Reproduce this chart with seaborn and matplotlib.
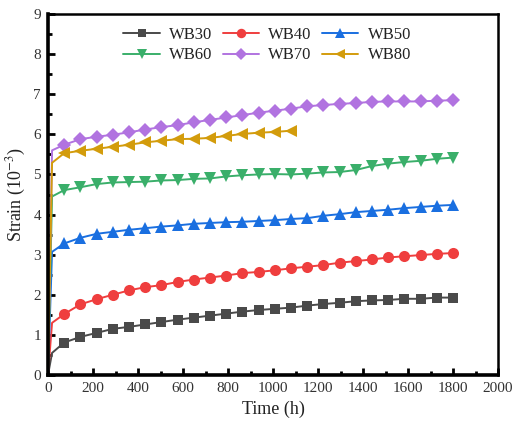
import matplotlib
matplotlib.use("Agg")
import matplotlib.pyplot as plt
import seaborn as sns
import pandas as pd
from matplotlib.ticker import MultipleLocator

# ---------------- data ----------------
time_full = [0, 18, 72, 144, 216, 288, 360, 432, 504, 576, 648, 720, 792, 864, 936,
             1008, 1080, 1152, 1224, 1296, 1368, 1440, 1512, 1584, 1656, 1728, 1800]
time_wb80 = [0, 18, 72, 144, 216, 288, 360, 432, 504, 576, 648, 720, 792, 864, 936,
             1008, 1080]

wb30 = [0, 0.55, 0.81, 0.95, 1.05, 1.15, 1.20, 1.26, 1.32, 1.38, 1.43, 1.48, 1.53,
        1.58, 1.62, 1.65, 1.68, 1.73, 1.77, 1.80, 1.84, 1.86, 1.87, 1.90, 1.90, 1.93, 1.93]
wb40 = [0, 1.30, 1.52, 1.76, 1.89, 2.00, 2.11, 2.19, 2.24, 2.32, 2.38, 2.43, 2.48,
        2.54, 2.57, 2.61, 2.66, 2.70, 2.74, 2.80, 2.84, 2.88, 2.93, 2.96, 2.99, 3.02, 3.04]
wb50 = [0, 3.07, 3.28, 3.42, 3.52, 3.57, 3.62, 3.66, 3.70, 3.73, 3.77, 3.79, 3.81,
        3.82, 3.84, 3.86, 3.89, 3.91, 3.97, 4.01, 4.06, 4.09, 4.12, 4.16, 4.19, 4.22, 4.24]
wb60 = [0, 4.45, 4.61, 4.68, 4.76, 4.80, 4.81, 4.82, 4.85, 4.86, 4.89, 4.90, 4.95,
        4.98, 5.00, 5.01, 5.00, 5.02, 5.05, 5.06, 5.11, 5.21, 5.27, 5.31, 5.34, 5.39, 5.42]
wb70 = [0, 5.60, 5.74, 5.88, 5.94, 5.99, 6.05, 6.12, 6.18, 6.23, 6.30, 6.36, 6.42,
        6.48, 6.54, 6.59, 6.64, 6.70, 6.73, 6.76, 6.78, 6.81, 6.82, 6.82, 6.82, 6.84, 6.85]
wb80 = [0, 5.29, 5.53, 5.59, 5.64, 5.69, 5.74, 5.80, 5.84, 5.88, 5.89, 5.91, 5.96,
        6.01, 6.04, 6.06, 6.09]

series_names = ["WB30", "WB40", "WB50", "WB60", "WB70", "WB80"]
series_times = [time_full, time_full, time_full, time_full, time_full, time_wb80]
series_values = [wb30, wb40, wb50, wb60, wb70, wb80]
colors = ["#4a4a4a", "#ef3e3e", "#1a6fe0", "#3aaf6a", "#b173e0", "#d39c0c"]
markers = ["s", "o", "^", "v", "D", "<"]
msizes = [7, 8, 8, 8, 7, 8]

x_ticks = [0, 200, 400, 600, 800, 1000, 1200, 1400, 1600, 1800, 2000]
y_ticks = [0, 1, 2, 3, 4, 5, 6, 7, 8, 9]

# ---------------- style ----------------
sns.set_style("ticks")
plt.rcParams["font.family"] = ["Liberation Serif", "DejaVu Serif"]
plt.rcParams["mathtext.fontset"] = "stix"

fig = plt.figure(figsize=(5.13, 4.23), dpi=100)
ax = fig.add_axes([48 / 513, 1 - 375 / 423, 450 / 513, 361 / 423])

for name, t, v, c, m, ms in zip(series_names, series_times, series_values,
                                colors, markers, msizes):
    df = pd.DataFrame({"Time": t, "Strain": v})
    sns.lineplot(data=df, x="Time", y="Strain", ax=ax, color=c, marker=m,
                 markersize=ms, markeredgewidth=0, linewidth=1.4,
                 markevery=list(range(2, len(t))), label=name, sort=False)

ax.set_xlim(0, 2000)
ax.set_ylim(0, 9)
ax.set_xticks(x_ticks)
ax.set_yticks(y_ticks)
ax.xaxis.set_minor_locator(MultipleLocator(100))
ax.yaxis.set_minor_locator(MultipleLocator(0.5))
ax.tick_params(which="both", direction="in", top=False, right=False,
               labelsize=11, colors="black")
ax.tick_params(which="major", length=5, width=2, pad=5)
ax.tick_params(which="minor", length=3, width=2)
for lbl in ax.get_xticklabels() + ax.get_yticklabels():
    lbl.set_color("#333333")

ax.spines["left"].set_linewidth(2.6)
ax.spines["bottom"].set_linewidth(2.6)
ax.spines["top"].set_linewidth(1.8)
ax.spines["right"].set_linewidth(1.8)
for s in ax.spines.values():
    s.set_color("black")

ax.set_xlabel("Time (h)", fontsize=13, color="#222222", labelpad=4)
ax.set_ylabel("Strain (10$^{-3}$)", fontsize=13, color="#222222", labelpad=4)

# legend: row-major order (WB30 WB40 WB50 / WB60 WB70 WB80)
handles, labels = ax.get_legend_handles_labels()
order = [0, 3, 1, 4, 2, 5]
leg = ax.legend([handles[i] for i in order], [labels[i] for i in order],
                loc="upper center", bbox_to_anchor=(0.487, 1.005), ncol=3,
                frameon=False, fontsize=12, handlelength=2.2,
                columnspacing=0.6, handletextpad=0.55, labelspacing=0.25,
                markerscale=0.85, numpoints=1)
for txt in leg.get_texts():
    txt.set_color("#222222")

fig.savefig("out.png", dpi=100)
